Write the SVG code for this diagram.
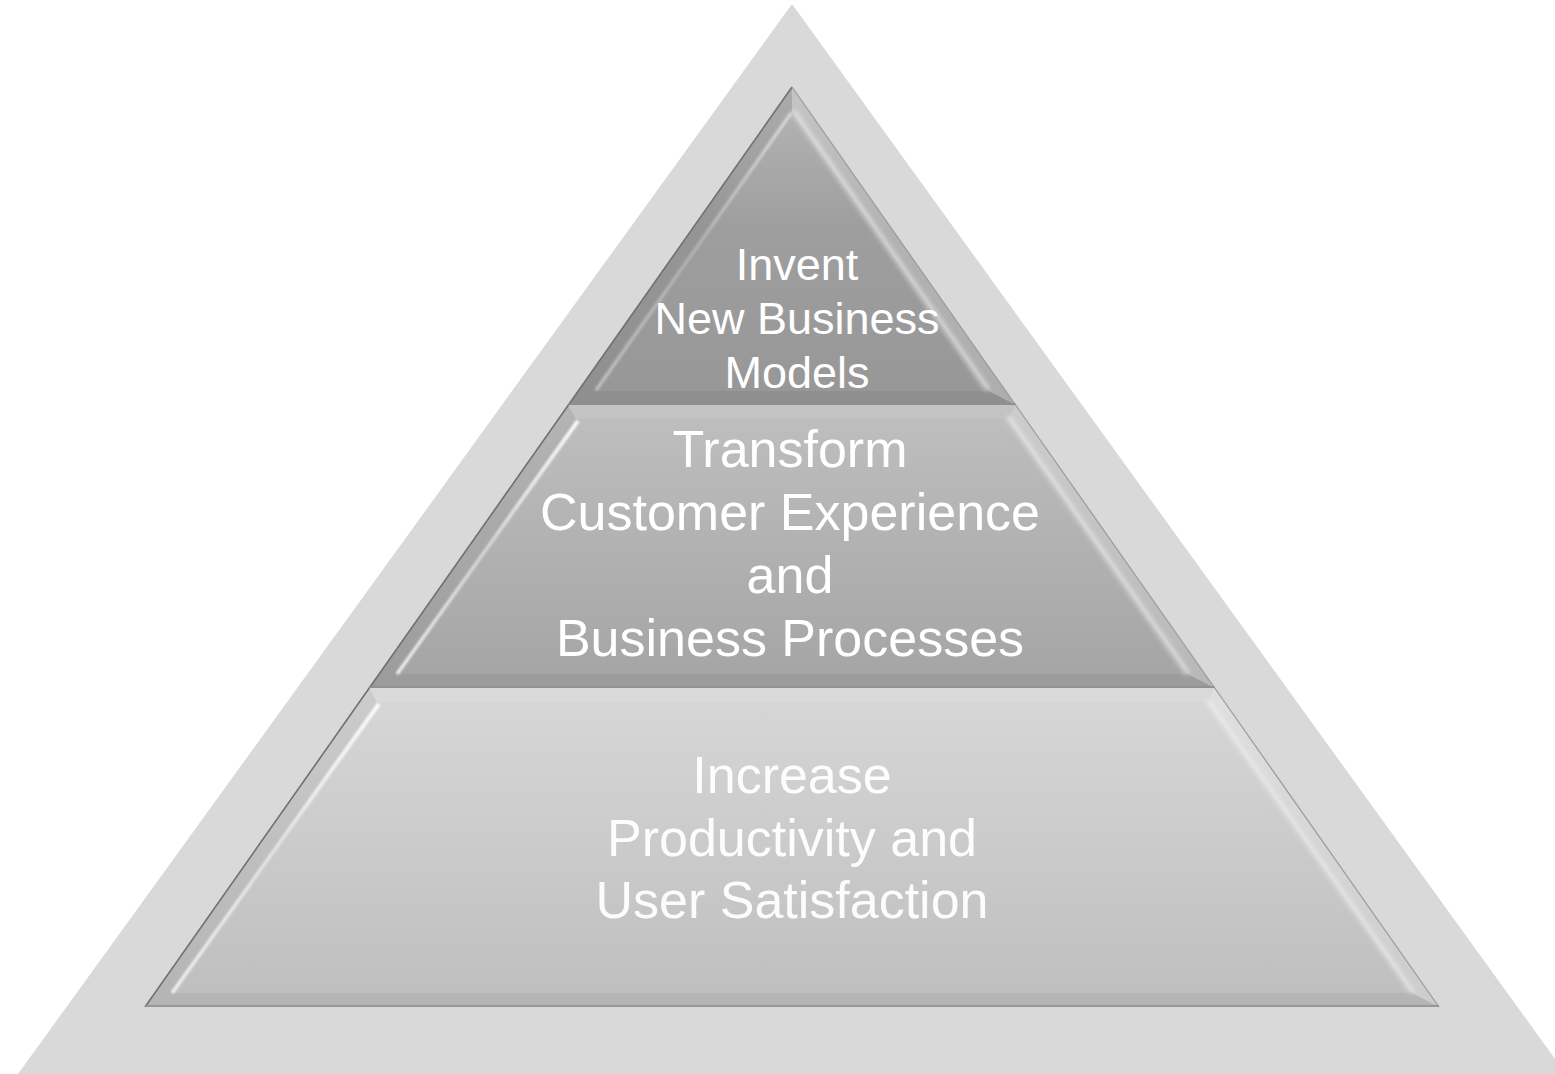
<svg xmlns="http://www.w3.org/2000/svg" width="1555" height="1074" viewBox="0 0 1555 1074">
<defs>
  <linearGradient id="g1" x1="0" y1="0" x2="0" y2="1">
    <stop offset="0" stop-color="#b6b6b6"/>
    <stop offset="0.45" stop-color="#9e9e9e"/>
    <stop offset="1" stop-color="#979797"/>
  </linearGradient>
  <linearGradient id="g2" x1="0" y1="0" x2="0" y2="1">
    <stop offset="0" stop-color="#bfbfbf"/>
    <stop offset="1" stop-color="#a4a4a4"/>
  </linearGradient>
  <linearGradient id="g3" x1="0" y1="0" x2="0" y2="1">
    <stop offset="0" stop-color="#d7d7d7"/>
    <stop offset="1" stop-color="#bebebe"/>
  </linearGradient>
  <linearGradient id="hlg" x1="0" y1="0" x2="0" y2="1">
    <stop offset="0" stop-color="#fff" stop-opacity="1"/>
    <stop offset="0.5" stop-color="#fff" stop-opacity="0.45"/>
    <stop offset="1" stop-color="#fff" stop-opacity="0.8"/>
  </linearGradient>
  <filter id="soft" x="-20%" y="-20%" width="140%" height="140%">
    <feGaussianBlur stdDeviation="1.3"/>
  </filter>
  <filter id="soft2" x="-20%" y="-20%" width="140%" height="140%">
    <feGaussianBlur stdDeviation="2.5"/>
  </filter>
</defs>
<style>
  .lband { fill: #000; fill-opacity: 0.05; }
  .rband { fill: #fff; fill-opacity: 0.22; }
  .bband { fill: #000; fill-opacity: 0.05; }
  .tband { fill: #fff; fill-opacity: 0.08; }
  .edgeL { stroke: #707070; stroke-width: 1.6; fill: none; }
  .edgeR { stroke: #9a9a9a; stroke-width: 1.2; fill: none; }
  .edgeB { stroke: #8f8f8f; stroke-width: 1.6; fill: none; }
  .hl { stroke: url(#hlg); stroke-width: 3.5; fill: none; filter: url(#soft); }
  .hr { stroke: #efefef; stroke-width: 4; fill: none; filter: url(#soft2); stroke-opacity: 0.8; }
  .lbl { font-family: "Liberation Sans", Arial, sans-serif; fill: #fff; text-anchor: middle; }
</style>

<g id="background">
  <polygon points="792,4 18,1074 1566,1074" fill="#d9d9d9"/>
</g>

<g id="tier-bottom">
  <polygon points="369.3,688 1214.7,688 1439,1007 145,1007" fill="url(#g3)"/>
  <polygon class="tband" points="369.3,688 1214.7,688 1207.4,702 376.6,702"/>
  <polygon class="lband" points="369.3,688 376.6,702 171.9,993 145,1007"/>
  <polygon class="rband" points="1214.7,688 1439,1007 1412.1,993 1207.4,702"/>
  <polygon class="bband" points="145,1007 1439,1007 1412.1,993 171.9,993"/>
  <line class="edgeL" x1="369.3" y1="688" x2="145" y2="1007"/>
  <line class="edgeR" x1="1214.7" y1="688" x2="1439" y2="1007"/>
  <line class="edgeB" x1="145" y1="1006" x2="1439" y2="1006"/>
  <line class="hl" x1="379" y1="704" x2="172" y2="993"/>
  <line class="hr" x1="1207" y1="700" x2="1413" y2="993"/>
  <text class="lbl" font-size="52" x="792" fill-opacity="0.95"><tspan x="792" y="793">Increase</tspan><tspan x="792" y="856">Productivity and</tspan><tspan x="792" y="918">User Satisfaction</tspan></text>
</g>

<g id="tier-middle">
  <polygon points="568.4,405 1015.6,405 1214.7,688 369.3,688" fill="url(#g2)"/>
  <polygon class="tband" points="568.4,405 1015.6,405 1008.4,419 575.6,419"/>
  <polygon class="lband" points="568.4,405 575.6,419 396.3,674 369.3,688"/>
  <polygon class="rband" points="1015.6,405 1214.7,688 1187.7,674 1008.4,419"/>
  <polygon class="bband" points="369.3,688 1214.7,688 1187.7,674 396.3,674"/>
  <line class="edgeL" x1="568.4" y1="405" x2="369.3" y2="688"/>
  <line class="edgeR" x1="1015.6" y1="405" x2="1214.7" y2="688"/>
  <line class="edgeB" x1="369.3" y1="687" x2="1214.7" y2="687"/>
  <line class="hl" x1="578" y1="421" x2="397" y2="674"/>
  <line class="hr" x1="1008" y1="417" x2="1188" y2="674"/>
  <text class="lbl" font-size="52" x="790"><tspan x="790" y="467">Transform</tspan><tspan x="790" y="530">Customer Experience</tspan><tspan x="790" y="593">and</tspan><tspan x="790" y="656">Business Processes</tspan></text>
</g>

<g id="tier-top">
  <polygon points="792,87 1015.6,405 568.4,405" fill="url(#g1)"/>
  <polygon class="lband" points="792,87 792,111.3 595.3,391 568.4,405"/>
  <polygon class="rband" points="792,87 1015.6,405 988.7,391 792,111.3"/>
  <polygon class="bband" points="568.4,405 1015.6,405 988.7,391 595.3,391"/>
  <line class="edgeL" x1="792" y1="87" x2="568.4" y2="405"/>
  <line class="edgeR" x1="792" y1="87" x2="1015.6" y2="405"/>
  <line class="edgeB" x1="568.4" y1="404" x2="1015.6" y2="404"/>
  <line class="hl" x1="791" y1="113" x2="596" y2="390" stroke-opacity="0.5"/>
  <line class="hr" x1="793" y1="111" x2="988" y2="390"/>
  <text class="lbl" font-size="45" x="797"><tspan x="797" y="280">Invent</tspan><tspan x="797" y="334">New Business</tspan><tspan x="797" y="388">Models</tspan></text>
</g>

<g id="connectors"/>
</svg>
